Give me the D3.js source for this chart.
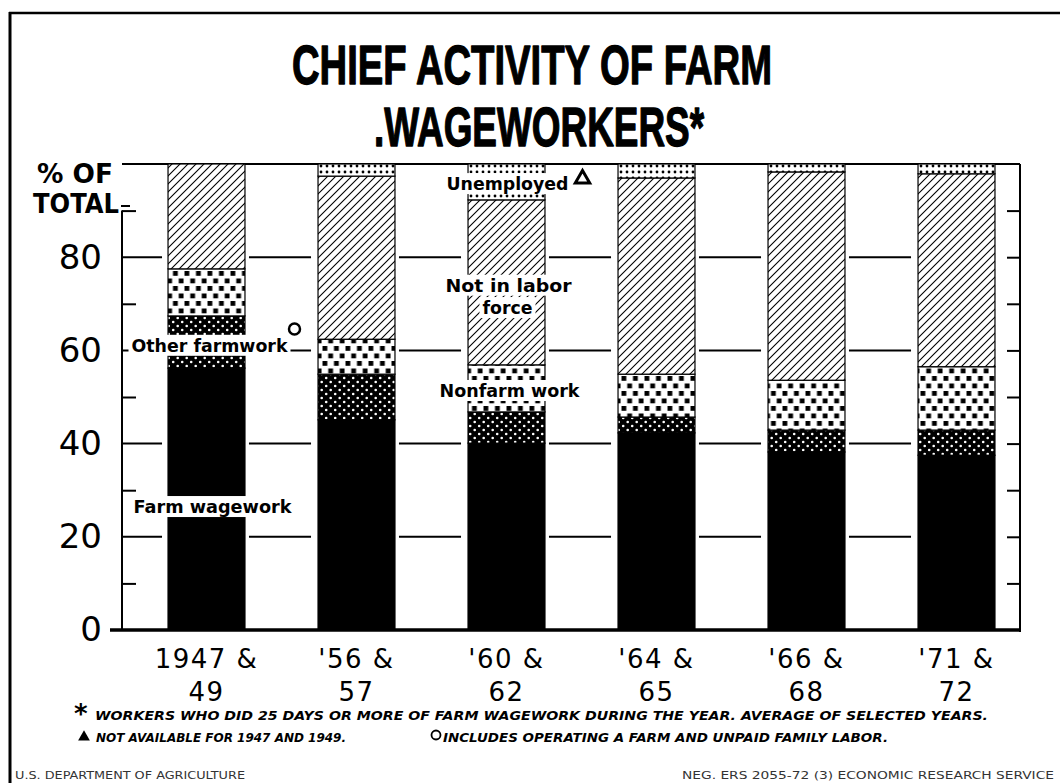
<!DOCTYPE html>
<html>
<head>
<meta charset="utf-8">
<script src="https://cdn.jsdelivr.net/npm/d3@7"></script>
<style>
  html, body { margin: 0; padding: 0; background: #fff; }
  svg { display: block; }
</style>
</head>
<body>
<div id="chart"></div>
<script>
// Chief activity of farm wageworkers, % of total, stacked bars

// ---- data ----
const periods = ["1947 & 49", "'56 & 57", "'60 & 62", "'64 & 65", "'66 & 68", "'71 & 72"];
const periodLine1 = ["1947 &", "'56 &", "'60 &", "'64 &", "'66 &", "'71 &"];
const periodLine2 = ["49", "57", "62", "65", "68", "72"];

const farmWagework    = [56.2, 45.1, 40.1, 42.3, 38.2, 37.5];
const otherFarmwork   = [11.2,  9.8,  6.7,  3.4,  4.7,  5.4];
const nonfarmWork     = [10.1,  7.5, 10.1,  9.2, 10.7, 13.6];
const notInLaborForce = [22.5, 35.0, 35.4, 42.1, 44.7, 41.4];
const unemployed      = [ 0.0,  2.6,  7.7,  3.0,  1.7,  2.1];

const keys = ["farm", "other", "nonfarm", "nilf", "unemp"];
const yLabelTicks = [0, 20, 40, 60, 80];
const gridTicks = [20, 40, 60, 80];
const minorTicks = [10, 30, 50, 70, 90];
const rightTicks = [10, 20, 30, 40, 50, 60, 70, 80, 90];

// table for d3.stack
const rows = periods.map((p, i) => ({
  period: p,
  farm: farmWagework[i],
  other: otherFarmwork[i],
  nonfarm: nonfarmWork[i],
  nilf: notInLaborForce[i],
  unemp: unemployed[i]
}));

// ---- svg ----
const W = 1060, H = 783;
const svg = d3.select("#chart").append("svg")
  .attr("width", W).attr("height", H)
  .style("background", "#fff");

const axisLeftX = 122, axisRightX = 1020;

const x = d3.scaleBand()
  .domain(periods)
  .range([131.5, 1031.5])
  .paddingInner(0.487)
  .paddingOuter(0.2435);

const y = d3.scaleLinear().domain([0, 100]).range([630, 164]);

// ---- patterns ----
const defs = svg.append("defs");

// other farmwork: black with small white dots
const pOther = defs.append("pattern").attr("id", "pat-other")
  .attr("patternUnits", "userSpaceOnUse").attr("width", 9).attr("height", 8);
pOther.append("rect").attr("width", 9).attr("height", 8).attr("fill", "#000");
pOther.append("circle").attr("cx", 2.2).attr("cy", 2).attr("r", 1.3).attr("fill", "#fff");
pOther.append("circle").attr("cx", 6.7).attr("cy", 6).attr("r", 1.3).attr("fill", "#fff");

// nonfarm work: white with black squares, staggered
const pNon = defs.append("pattern").attr("id", "pat-nonfarm")
  .attr("patternUnits", "userSpaceOnUse").attr("width", 11.5).attr("height", 15);
pNon.append("rect").attr("width", 11.5).attr("height", 15).attr("fill", "#fff");
pNon.append("rect").attr("x", 0.5).attr("y", 1).attr("width", 4.8).attr("height", 4.8).attr("fill", "#000");
pNon.append("rect").attr("x", 6.25).attr("y", 8.5).attr("width", 4.8).attr("height", 4.8).attr("fill", "#000");

// not in labor force: diagonal hatch
const pNilf = defs.append("pattern").attr("id", "pat-nilf")
  .attr("patternUnits", "userSpaceOnUse").attr("width", 8).attr("height", 8);
pNilf.append("rect").attr("width", 8).attr("height", 8).attr("fill", "#fff");
pNilf.append("path").attr("d", "M-2,2 L2,-2 M0,8 L8,0 M6,10 L10,6")
  .attr("stroke", "#000").attr("stroke-width", 1.1);

// unemployed: small dots
const pUn = defs.append("pattern").attr("id", "pat-unemp")
  .attr("patternUnits", "userSpaceOnUse").attr("width", 6).attr("height", 6)
  .attr("y", 1);
pUn.append("rect").attr("width", 6).attr("height", 6).attr("fill", "#fff");
pUn.append("circle").attr("cx", 3).attr("cy", 3).attr("r", 1.4).attr("fill", "#000");

const fills = {
  farm: "#000",
  other: "url(#pat-other)",
  nonfarm: "url(#pat-nonfarm)",
  nilf: "url(#pat-nilf)",
  unemp: "url(#pat-unemp)"
};

// ---- frame ----
svg.append("line").attr("x1", 9).attr("x2", W).attr("y1", 13).attr("y2", 13)
  .attr("stroke", "#000").attr("stroke-width", 2.5);
svg.append("line").attr("x1", 10).attr("x2", 10).attr("y1", 12).attr("y2", H)
  .attr("stroke", "#000").attr("stroke-width", 3);

// ---- title ----
const title = svg.append("g")
  .attr("font-family", "'Liberation Sans Narrow', 'Liberation Sans', sans-serif")
  .attr("font-weight", "bold").attr("font-size", 56).attr("text-anchor", "middle")
  .attr("stroke", "#000").attr("stroke-width", 1.3).attr("stroke-linejoin", "round");
title.append("text").attr("x", 532).attr("y", 84)
  .attr("textLength", 480).attr("lengthAdjust", "spacingAndGlyphs")
  .text("CHIEF ACTIVITY OF FARM");
title.append("text").attr("x", 539).attr("y", 146)
  .attr("textLength", 330).attr("lengthAdjust", "spacingAndGlyphs")
  .text(".WAGEWORKERS*");

// ---- axis frame ----
const frame = svg.append("g").attr("stroke", "#000");
// top line at 100
frame.append("line").attr("x1", axisLeftX).attr("x2", axisRightX)
  .attr("y1", y(100)).attr("y2", y(100)).attr("stroke-width", 2);
// left axis
frame.append("line").attr("x1", axisLeftX).attr("x2", axisLeftX)
  .attr("y1", y(90)).attr("y2", y(0)).attr("stroke-width", 2);
// right axis
frame.append("line").attr("x1", axisRightX).attr("x2", axisRightX)
  .attr("y1", y(100)).attr("y2", y(0) + 2).attr("stroke-width", 2);
// baseline
frame.append("line").attr("x1", 110).attr("x2", axisRightX + 1)
  .attr("y1", y(0)).attr("y2", y(0)).attr("stroke-width", 3.5);

// left minor ticks
svg.append("g").attr("transform", `translate(${axisLeftX},0)`)
  .call(d3.axisRight(y).tickValues(minorTicks).tickSize(14).tickFormat(""))
  .call(g => g.select(".domain").remove())
  .selectAll("line").attr("stroke", "#000").attr("stroke-width", 2);

// right ticks
svg.append("g").attr("transform", `translate(${axisRightX},0)`)
  .call(d3.axisLeft(y).tickValues(rightTicks).tickSize(13).tickFormat(""))
  .call(g => g.select(".domain").remove())
  .selectAll("line").attr("stroke", "#000").attr("stroke-width", 2);

// y labels
svg.append("g").attr("transform", `translate(${axisLeftX},0)`)
  .call(d3.axisLeft(y).tickValues(yLabelTicks).tickSize(0).tickPadding(20))
  .call(g => g.select(".domain").remove())
  .selectAll("text")
  .attr("font-family", "'DejaVu Sans', sans-serif")
  .attr("font-size", 34).attr("fill", "#000");

// gridline segments between bars
const gapL = 4, gapR = 7;
const segs = [];
segs.push([axisLeftX, x(periods[0]) - 6]);
for (let i = 0; i < periods.length - 1; i++) {
  segs.push([x(periods[i]) + x.bandwidth() + gapL, x(periods[i + 1]) - gapR]);
}
const grid = svg.append("g").attr("stroke", "#000").attr("stroke-width", 2);
gridTicks.forEach(t => {
  grid.selectAll(null).data(segs).join("line")
    .attr("x1", d => d[0]).attr("x2", d => d[1])
    .attr("y1", y(t)).attr("y2", y(t));
});

// "% OF TOTAL"
const unitLab = svg.append("g")
  .attr("font-family", "'DejaVu Sans', sans-serif")
  .attr("font-weight", "bold").attr("font-size", 26);
unitLab.append("text").attr("x", 37).attr("y", 183)
  .attr("textLength", 76).attr("lengthAdjust", "spacingAndGlyphs").text("% OF");
unitLab.append("text").attr("x", 33).attr("y", 213)
  .attr("textLength", 86).attr("lengthAdjust", "spacingAndGlyphs").text("TOTAL");
svg.append("line").attr("x1", 121).attr("x2", 130).attr("y1", 206).attr("y2", 206)
  .attr("stroke", "#000").attr("stroke-width", 2);

// ---- bars ----
const series = d3.stack().keys(keys)(rows);
svg.append("g").selectAll("g")
  .data(series)
  .join("g")
  .attr("fill", d => fills[d.key])
  .selectAll("rect")
  .data(d => d.filter(s => s[1] - s[0] > 0))
  .join("rect")
  .attr("x", d => x(d.data.period))
  .attr("width", x.bandwidth())
  .attr("y", d => y(d[1]))
  .attr("height", d => y(d[0]) - y(d[1]))
  .attr("stroke", "#000")
  .attr("stroke-width", 1.2);

// ---- in-chart labels with white knock-out boxes ----
const lab = svg.append("g")
  .attr("font-family", "'DejaVu Sans', sans-serif")
  .attr("font-weight", "bold").attr("font-size", 17);

function knockLabel(text, cx, base, w) {
  lab.append("rect").attr("x", cx - w / 2).attr("y", base - 17)
    .attr("width", w).attr("height", 21).attr("fill", "#fff");
  lab.append("text").attr("x", cx).attr("y", base)
    .attr("text-anchor", "middle")
    .attr("textLength", w - 6).attr("lengthAdjust", "spacingAndGlyphs")
    .text(text);
}
const cx1 = x(periods[0]) + x.bandwidth() / 2;
const cx3 = x(periods[2]) + x.bandwidth() / 2;

knockLabel("Other farmwork", cx1 + 3, y(59.7), 162);
knockLabel("Farm wagework", cx1 + 6, y(25.1), 164);
knockLabel("Unemployed", cx3 + 1, y(94.4), 128);
knockLabel("Not in labor", cx3 + 2, y(72.6), 132);
knockLabel("force", cx3 + 1, y(67.8), 56);
knockLabel("Nonfarm work", cx3 + 3, y(50.0), 146);

// footnote markers
svg.append("circle").attr("cx", cx1 + 88).attr("cy", y(64.6)).attr("r", 5.5)
  .attr("fill", "none").attr("stroke", "#000").attr("stroke-width", 2.5);
svg.append("path")
  .attr("d", d3.symbol(d3.symbolTriangle, 90)())
  .attr("transform", `translate(${cx3 + 76},${y(96.8)})`)
  .attr("fill", "none").attr("stroke", "#000").attr("stroke-width", 3);

// ---- x labels ----
const xl = svg.append("g")
  .attr("font-family", "'DejaVu Sans', sans-serif")
  .attr("font-size", 26).attr("text-anchor", "middle").attr("fill", "#000");
xl.selectAll("text.l1").data(periods).join("text").attr("class", "l1")
  .attr("x", d => x(d) + x.bandwidth() / 2)
  .attr("y", 668)
  .attr("letter-spacing", 1.5)
  .text((d, i) => periodLine1[i]);
xl.selectAll("text.l2").data(periods).join("text").attr("class", "l2")
  .attr("x", d => x(d) + x.bandwidth() / 2)
  .attr("y", 701)
  .attr("letter-spacing", 1.5)
  .text((d, i) => periodLine2[i]);

// ---- footnotes ----
const fn = svg.append("g")
  .attr("font-family", "'DejaVu Sans', sans-serif")
  .attr("font-weight", "bold").attr("font-style", "italic").attr("font-size", 11.5);
fn.append("text").attr("x", 74).attr("y", 723).attr("font-size", 26).attr("font-style", "normal").text("*");
fn.append("text").attr("x", 95).attr("y", 720)
  .attr("textLength", 893).attr("lengthAdjust", "spacingAndGlyphs")
  .text("WORKERS WHO DID 25 DAYS OR MORE OF FARM WAGEWORK DURING THE YEAR. AVERAGE OF SELECTED YEARS.");
fn.append("path").attr("d", d3.symbol(d3.symbolTriangle, 60)())
  .attr("transform", "translate(84,737)").attr("fill", "#000");
fn.append("text").attr("x", 96).attr("y", 742)
  .attr("textLength", 250).attr("lengthAdjust", "spacingAndGlyphs")
  .text("NOT AVAILABLE FOR 1947 AND 1949.");
fn.append("circle").attr("cx", 436).attr("cy", 735).attr("r", 4.5)
  .attr("fill", "none").attr("stroke", "#000").attr("stroke-width", 1.8);
fn.append("text").attr("x", 443).attr("y", 742)
  .attr("textLength", 445).attr("lengthAdjust", "spacingAndGlyphs")
  .text("INCLUDES OPERATING A FARM AND UNPAID FAMILY LABOR.");

// ---- credit line ----
const cr = svg.append("g")
  .attr("font-family", "'DejaVu Sans Condensed', 'DejaVu Sans', sans-serif")
  .attr("font-size", 10).attr("fill", "#333");
cr.append("text").attr("x", 15).attr("y", 779)
  .attr("textLength", 230).attr("lengthAdjust", "spacingAndGlyphs")
  .text("U.S. DEPARTMENT OF AGRICULTURE");
cr.append("text").attr("x", 682).attr("y", 779)
  .attr("textLength", 372).attr("lengthAdjust", "spacingAndGlyphs")
  .text("NEG. ERS 2055-72 (3)     ECONOMIC RESEARCH SERVICE");
</script>
</body>
</html>
